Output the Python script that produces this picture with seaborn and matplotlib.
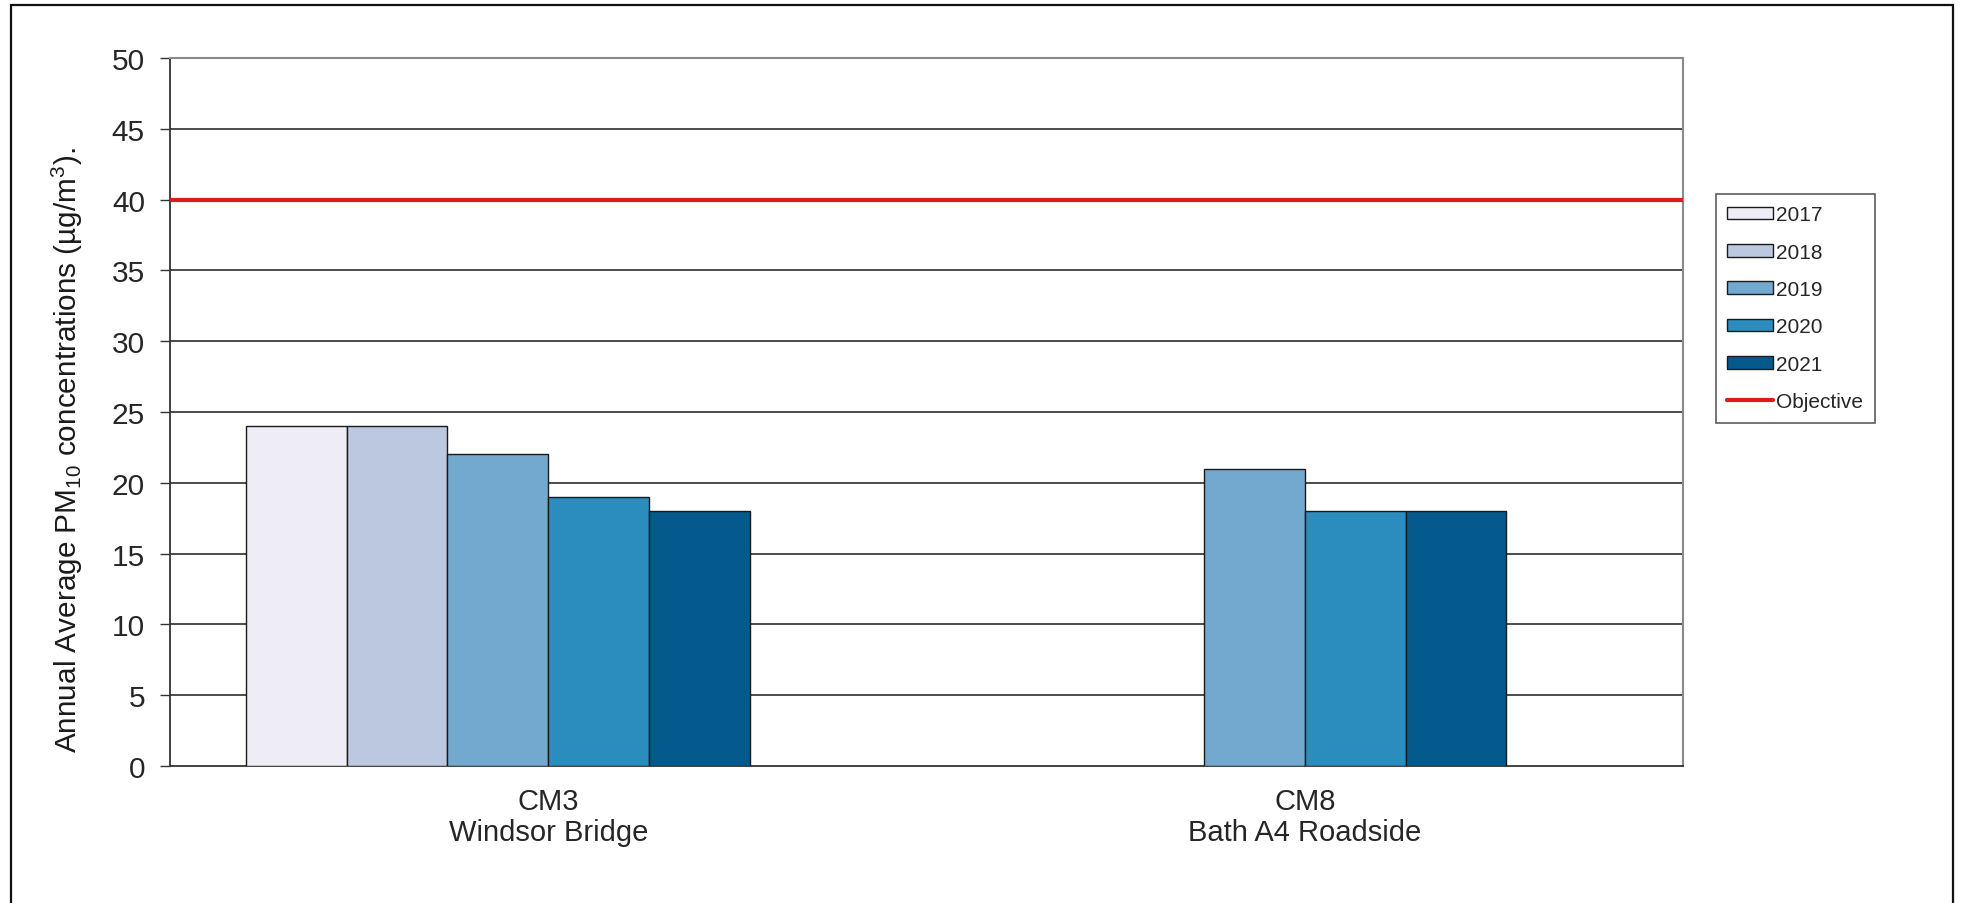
import pandas as pd
import matplotlib
matplotlib.use("Agg")
import matplotlib.pyplot as plt
import matplotlib.patches as mpatches
from matplotlib.lines import Line2D
import seaborn as sns

# data
sites = ["CM3\nWindsor Bridge", "CM8\nBath A4 Roadside"]
years = ["2017", "2018", "2019", "2020", "2021"]
cm3_values = [24, 24, 22, 19, 18]
cm8_values = [None, None, 21, 18, 18]
objective = 40
colors = ["#EEECF4", "#BCC8E0", "#74A9CF", "#2B8CBE", "#045A8D"]

# the original chart keeps an empty sixth series slot
hue_order = years + [" "]

rows = []
for year, v3, v8 in zip(years, cm3_values, cm8_values):
    rows.append({"site": sites[0], "year": year, "value": v3})
    rows.append({"site": sites[1], "year": year, "value": v8})
df = pd.DataFrame(rows).dropna()

sns.set_style("white")
plt.rcParams["font.family"] = ["Liberation Sans", "DejaVu Sans"]
plt.rcParams["mathtext.default"] = "regular"

W, H = 1961, 904
fig = plt.figure(figsize=(W / 100, H / 100), dpi=100)
ax = fig.add_axes([170 / W, 1 - 767 / H, (1683 - 170) / W, (767 - 59) / H])

palette = dict(zip(hue_order, colors + ["#ffffff"]))
sns.barplot(data=df, x="site", y="value", hue="year", hue_order=hue_order,
            order=sites, palette=palette, saturation=1, width=0.8,
            edgecolor="#1a1a1a", linewidth=1.0, errorbar=None, legend=False,
            ax=ax, zorder=3)

ax.set_xlim(-0.5, 1.5)
ax.set_ylim(0, 50)
ax.set_yticks(range(0, 51, 5))
for y in range(5, 50, 5):
    ax.axhline(y, color="#1a1a1a", linewidth=1.1, zorder=1)
ax.axhline(objective, color="#E01B1B", linewidth=3.0, zorder=4)

ax.set_xlabel("")
ax.set_ylabel("")
ax.set_xticks([0, 1])
ax.set_xticklabels(sites, fontsize=21, linespacing=1.15)
ax.set_xticks([-0.5, 0.5, 1.5], minor=True)
ax.tick_params(axis="x", which="major", length=0, pad=15)
ax.tick_params(axis="x", which="minor", length=7, width=1, color="#333333", direction="out")
ax.tick_params(axis="y", length=7, width=1, color="#333333", direction="out",
               labelsize=21.5, pad=11, left=True)

for side in ["left", "bottom"]:
    ax.spines[side].set_color("#333333")
    ax.spines[side].set_linewidth(1.3)
for side in ["top", "right"]:
    ax.spines[side].set_visible(True)
    ax.spines[side].set_color("#8a8a8a")
    ax.spines[side].set_linewidth(1.5)

fig.text(67 / W, 1 - 450 / H,
         "Annual Average PM$_{10}$ concentrations (µg/m$^{3}$).",
         rotation=90, ha="center", va="center", fontsize=21.4, color="#1a1a1a")

handles = [mpatches.Patch(facecolor=c, edgecolor="#1a1a1a", linewidth=1.0)
           for c in colors]
handles.append(Line2D([0], [0], color="#E01B1B", linewidth=3.0))
labels = years + ["Objective"]
leg = fig.legend(handles, labels, loc="upper left",
                 bbox_to_anchor=(1716 / W, 1 - 195 / H), fontsize=15,
                 frameon=True, fancybox=False, edgecolor="#333333",
                 handlelength=2.2, handleheight=0.55, handletextpad=0.15,
                 labelspacing=0.88, borderpad=0.55, borderaxespad=0)
leg.get_frame().set_linewidth(1.2)

# outer chart border
border = mpatches.Rectangle((11 / W, -0.02), (1953 - 11) / W, 1 - 6 / H + 0.02,
                            transform=fig.transFigure, fill=False,
                            edgecolor="#111111", linewidth=1.6, clip_on=False)
fig.patches.append(border)

fig.savefig("out.png", dpi=100, facecolor="white")
